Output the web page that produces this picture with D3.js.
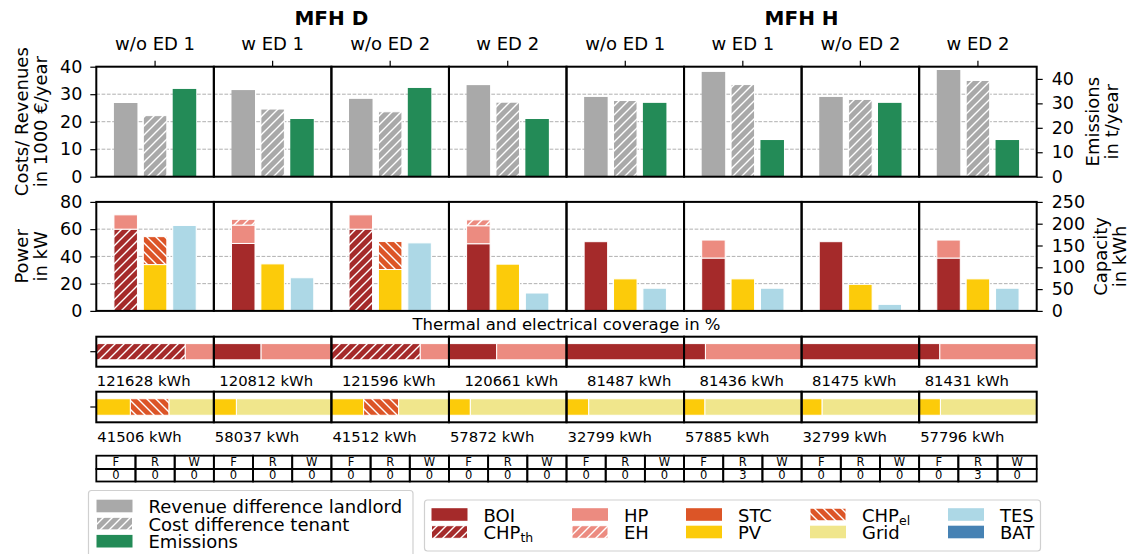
<!DOCTYPE html>
<html>
<head>
<meta charset="utf-8">
<script src="https://cdn.jsdelivr.net/npm/d3@7"></script>
<style>
  html, body { margin: 0; padding: 0; background: #fff; }
  svg { display: block; font-family: "DejaVu Sans", sans-serif; }
</style>
</head>
<body>
<svg id="chart" width="1133" height="554"></svg>
<script>
// ---------------- data ----------------
const scenarios = ["w/o ED 1", "w ED 1", "w/o ED 2", "w ED 2", "w/o ED 1", "w ED 1", "w/o ED 2", "w ED 2"];
const buildings = ["MFH D", "MFH H"];

// costs / revenues in 1000 EUR/year, emissions in t/year
const revenueLandlord = [26.8, 31.5, 28.3, 33.3, 29.0, 38.1, 29.0, 38.8];
const costTenant      = [22.2, 24.6, 23.6, 27.1, 27.7, 33.5, 28.1, 35.0];
const emissions       = [35.9, 23.6, 36.3, 23.6, 30.2, 15.0, 30.2, 15.0];

// installed power in kW
const powerBOI   = [0, 49.5, 0, 49.3, 50.8, 38.8, 50.8, 38.8];
const powerCHPth = [60, 0, 60, 0, 0, 0, 0, 0];
const powerHP    = [10.5, 13.5, 10.5, 13.2, 0, 13.2, 0, 13.2];
const powerEH    = [0, 4.2, 0, 4.3, 0, 0, 0, 0];
const powerPV    = [34, 34.5, 30.4, 34.3, 23.5, 23.5, 19.5, 23.5];
const powerSTC   = [0, 0, 0, 0, 0, 0, 0, 0];
const powerCHPel = [20.5, 0, 20.5, 0, 0, 0, 0, 0];
// storage capacity in kWh
const capTES = [196, 76, 156, 41, 52, 52, 15, 52];
const capBAT = [0, 0, 0, 0, 0, 0, 0, 0];

// coverage shares in %
const thermBOI   = [0, 40.2, 0, 40.6, 100, 18.2, 100, 17.6];
const thermCHPth = [75.7, 0, 75.6, 0, 0, 0, 0, 0];
const thermHP    = [24.3, 59.8, 24.4, 59.4, 0, 81.8, 0, 82.4];
const thermEH    = [0, 0, 0, 0, 0, 0, 0, 0];
const elecPV     = [29.0, 19.2, 27.4, 18.2, 18.9, 17.8, 17.5, 18.1];
const elecCHPel  = [32.9, 0, 29.8, 0, 0, 0, 0, 0];
const elecGrid   = [38.1, 80.8, 42.8, 81.8, 81.1, 82.2, 82.5, 81.9];

// annual demands in kWh
const thermalDemand    = [121628, 120812, 121596, 120661, 81487, 81436, 81475, 81431];
const electricalDemand = [41506, 58037, 41512, 57872, 32799, 57885, 32799, 57796];

// flexibility table
const flexCols = ["F", "R", "W"];
const flexF = [0, 0, 0, 0, 0, 0, 0, 0];
const flexR = [0, 0, 0, 0, 0, 3, 0, 3];
const flexW = [0, 0, 0, 0, 0, 0, 0, 0];

const topTicks = [0, 10, 20, 30, 40];
const emisTicks = [0, 10, 20, 30, 40];
const powerTicks = [0, 20, 40, 60, 80];
const capTicks = [0, 50, 100, 150, 200, 250];

// ---------------- style ----------------
const C = {
  grey: "#a9a9a9", green: "#238b57", boi: "#a52a2a", hp: "#ec8b80",
  stc: "#dc5527", pv: "#fccb0a", grid: "#f0e68c", tes: "#add8e6", bat: "#4682b4"
};
const FONT_TICK = 17.5, FONT_LAB = 18;

// ---------------- layout ----------------
const svg = d3.select("#chart");
const X0 = 96.3, X1 = 1036.7;
const panel = d3.scaleBand().domain(d3.range(scenarios.length)).range([X0, X1]);
const pw = panel.bandwidth();
const inner = d3.scaleLinear().domain([-1, 3]).range([0, pw]);
const barW = inner(0.8) - inner(0);
const barX = (i, pos) => panel(i) + inner(pos - 0.4);

const yTop = d3.scaleLinear().domain([0, 40]).range([176.7, 66.7]);
const yEmis = d3.scaleLinear().domain([0, 45]).range([176.7, 66.7]);
const yPow = d3.scaleLinear().domain([0, 80]).range([310.9, 201.9]);
const yCap = d3.scaleLinear().domain([0, 250]).range([310.9, 201.9]);
const cov = d3.scaleLinear().domain([0, 100]).range([0, pw]);
const rowTherm = d3.scaleLinear().domain([-0.5, 0.5]).range([366.7, 336.7]);
const rowElec = d3.scaleLinear().domain([-0.5, 0.5]).range([422.3, 391.7]);

// ---------------- hatch patterns ----------------
const defs = svg.append("defs");
function hatch(id, color, dir, s) {
  const p = defs.append("pattern").attr("id", id)
    .attr("patternUnits", "userSpaceOnUse").attr("width", s).attr("height", s);
  p.append("rect").attr("width", s).attr("height", s).attr("fill", color);
  const d = dir === "/"
    ? `M0,${s} L${s},0 M${-s / 2},${s / 2} L${s / 2},${-s / 2} M${s / 2},${1.5 * s} L${1.5 * s},${s / 2}`
    : `M0,0 L${s},${s} M${-s / 2},${s / 2} L${s / 2},${1.5 * s} M${s / 2},${-s / 2} L${1.5 * s},${s / 2}`;
  p.append("path").attr("d", d).attr("stroke", "#fff").attr("stroke-width", 1.4).attr("fill", "none");
}
hatch("hGrey", C.grey, "/", 9);
hatch("hCHPth", C.boi, "/", 9);
hatch("hEH", C.hp, "/", 9);
hatch("hCHPel", C.stc, "\\", 9);

// ---------------- grid lines ----------------
const gGrid = svg.append("g");
scenarios.forEach((_, i) => {
  [10, 20, 30].forEach(v => gGrid.append("line")
    .attr("x1", panel(i)).attr("x2", panel(i) + pw).attr("y1", yTop(v)).attr("y2", yTop(v)));
  [20, 40, 60].forEach(v => gGrid.append("line")
    .attr("x1", panel(i)).attr("x2", panel(i) + pw).attr("y1", yPow(v)).attr("y2", yPow(v)));
});
gGrid.selectAll("line").attr("stroke", "#b0b0b0").attr("stroke-width", 1).attr("stroke-dasharray", "3.7,1.6");

// ---------------- top panel: costs/revenues and emissions ----------------
const topSeries = [
  { values: revenueLandlord, fill: C.grey, y: yTop, pos: 0, edge: false },
  { values: costTenant, fill: "url(#hGrey)", y: yTop, pos: 1, edge: true },
  { values: emissions, fill: C.green, y: yEmis, pos: 2, edge: false }
];
const gTop = svg.append("g");
topSeries.forEach(s => {
  gTop.selectAll(null).data(s.values).join("rect")
    .attr("x", (d, i) => barX(i, s.pos)).attr("width", barW)
    .attr("y", d => s.y(d)).attr("height", d => s.y(0) - s.y(d))
    .attr("fill", s.fill)
    .attr("stroke", s.edge ? "#fff" : "none").attr("stroke-width", 1);
});

// ---------------- middle panel: stacked power / capacity ----------------
const midGroups = [
  { pos: 0, y: yPow, parts: [[powerBOI, C.boi], [powerCHPth, "url(#hCHPth)"], [powerHP, C.hp], [powerEH, "url(#hEH)"]] },
  { pos: 1, y: yPow, parts: [[powerPV, C.pv], [powerSTC, C.stc], [powerCHPel, "url(#hCHPel)"]] },
  { pos: 2, y: yCap, parts: [[capTES, C.tes], [capBAT, C.bat]] }
];
const gMid = svg.append("g");
midGroups.forEach(g => {
  const rows = scenarios.map((_, i) => {
    const o = { i };
    g.parts.forEach((p, k) => o[k] = p[0][i]);
    return o;
  });
  const stack = d3.stack().keys(g.parts.map((_, k) => k))(rows);
  stack.forEach((layer, k) => {
    gMid.selectAll(null).data(layer.filter(d => d[1] - d[0] > 0)).join("rect")
      .attr("x", d => barX(d.data.i, g.pos)).attr("width", barW)
      .attr("y", d => g.y(d[1])).attr("height", d => g.y(d[0]) - g.y(d[1]))
      .attr("fill", g.parts[k][1]).attr("stroke", "#fff").attr("stroke-width", 1);
  });
});

// ---------------- coverage rows ----------------
function coverageRow(parts, row) {
  const rows = scenarios.map((_, i) => {
    const o = { i };
    parts.forEach((p, k) => o[k] = p[0][i]);
    return o;
  });
  const stack = d3.stack().keys(parts.map((_, k) => k))(rows);
  const g = svg.append("g");
  stack.forEach((layer, k) => {
    g.selectAll(null).data(layer.filter(d => d[1] - d[0] > 0.05)).join("rect")
      .attr("x", d => panel(d.data.i) + cov(d[0])).attr("width", d => cov(d[1]) - cov(d[0]))
      .attr("y", row(0.27)).attr("height", row(-0.27) - row(0.27))
      .attr("fill", parts[k][1]).attr("stroke", "#fff").attr("stroke-width", 1);
  });
}
coverageRow([[thermBOI, C.boi], [thermCHPth, "url(#hCHPth)"], [thermHP, C.hp], [thermEH, "url(#hEH)"]], rowTherm);
coverageRow([[elecPV, C.pv], [elecCHPel, "url(#hCHPel)"], [elecGrid, C.grid]], rowElec);

// ---------------- panel frames ----------------
const gFrame = svg.append("g").attr("fill", "none").attr("stroke", "#000").attr("stroke-width", 2);
const bands = [[yTop(40), yTop(0)], [yPow(80), yPow(0)], [rowTherm(0.5), rowTherm(-0.5)], [rowElec(0.5), rowElec(-0.5)]];
bands.forEach(([t, b]) => scenarios.forEach((_, i) =>
  gFrame.append("rect").attr("x", panel(i)).attr("y", t).attr("width", pw).attr("height", b - t)));

// ---------------- axes ----------------
function styleAxis(g) {
  g.select(".domain").remove();
  g.selectAll(".tick line").attr("stroke", "#000").attr("stroke-width", 1.2);
  g.selectAll(".tick text").attr("fill", "#000").attr("font-size", FONT_TICK)
    .attr("font-family", "DejaVu Sans, sans-serif");
}
svg.append("g").attr("transform", `translate(${X0},0)`)
  .call(d3.axisLeft(yTop).tickValues(topTicks).tickSize(6).tickPadding(8)).call(styleAxis);
svg.append("g").attr("transform", `translate(${X1},0)`)
  .call(d3.axisRight(yEmis).tickValues(emisTicks).tickSize(6).tickPadding(9)).call(styleAxis);
svg.append("g").attr("transform", `translate(${X0},0)`)
  .call(d3.axisLeft(yPow).tickValues(powerTicks).tickSize(6).tickPadding(8)).call(styleAxis);
svg.append("g").attr("transform", `translate(${X1},0)`)
  .call(d3.axisRight(yCap).tickValues(capTicks).tickSize(6).tickPadding(9)).call(styleAxis);
svg.append("g").attr("transform", `translate(0,${yTop(40)})`)
  .call(d3.axisTop(panel).tickFormat(i => scenarios[i]).tickSize(6).tickPadding(11)).call(styleAxis)
  .selectAll(".tick text").attr("font-size", FONT_LAB);

// small ticks on the coverage rows
[rowTherm, rowElec].forEach(r => svg.append("line")
  .attr("x1", X0 - 6).attr("x2", X0).attr("y1", r(0)).attr("y2", r(0))
  .attr("stroke", "#000").attr("stroke-width", 1.2));

// ---------------- titles and axis labels ----------------
const half = scenarios.length / 2;
buildings.forEach((b, k) => {
  const x = (panel(k * half) + panel(k * half + half - 1) + pw) / 2;
  svg.append("text").attr("x", x).attr("y", 24.7).attr("text-anchor", "middle")
    .attr("font-weight", "bold").attr("font-size", 20).text(b);
});

function vLabel(lines, xs, yc, rot) {
  lines.forEach((t, k) => svg.append("text")
    .attr("transform", `translate(${xs[k]},${yc}) rotate(${rot})`)
    .attr("text-anchor", "middle").attr("dominant-baseline", "central")
    .attr("font-size", FONT_LAB).text(t));
}
vLabel(["Costs/ Revenues", "in 1000 €/year"], [21.5, 40.5], (yTop(0) + yTop(40)) / 2, -90);
vLabel(["Power", "in kW"], [21.5, 40.5], (yPow(0) + yPow(80)) / 2, -90);
vLabel(["Emissions", "in t/year"], [1092, 1111], (yEmis(0) + yEmis(45)) / 2, -90);
vLabel(["Capacity", "in kWh"], [1100, 1119], (yCap(0) + yCap(250)) / 2, -90);

svg.append("text").attr("x", (X0 + X1) / 2).attr("y", 330).attr("text-anchor", "middle")
  .attr("font-size", 16.5).text("Thermal and electrical coverage in %");

// demand labels
const gDem = svg.append("g").attr("font-size", 14.8);
thermalDemand.forEach((v, i) => gDem.append("text")
  .attr("x", panel(i) + 0.5 + 5 * Math.min(i, scenarios.length - i)).attr("y", 386)
  .text(`${v} kWh`));
electricalDemand.forEach((v, i) => gDem.append("text")
  .attr("x", panel(i) + 1).attr("y", 441.5).text(`${v} kWh`));

// ---------------- flexibility table ----------------
const tTop = 455.7, tMid = 469, tBot = 481.5;
const gTab = svg.append("g");
const flexVals = [flexF, flexR, flexW];
const cellX = d3.scaleLinear().domain([0, 3]).range([0, pw]);
scenarios.forEach((_, i) => {
  flexCols.forEach((c, j) => {
    const x = panel(i) + cellX(j);
    gTab.append("rect").attr("x", x).attr("y", tTop).attr("width", cellX(1)).attr("height", tMid - tTop);
    gTab.append("rect").attr("x", x).attr("y", tMid).attr("width", cellX(1)).attr("height", tBot - tMid);
    gTab.append("text").attr("x", x + cellX(0.5)).attr("y", tTop + 10).text(c);
    gTab.append("text").attr("x", x + cellX(0.5)).attr("y", tMid + 10).text(flexVals[j][i]);
  });
});
gTab.selectAll("rect").attr("fill", "none").attr("stroke", "#000").attr("stroke-width", 1.8);
gTab.selectAll("text").attr("text-anchor", "middle").attr("font-size", 11.5);

// ---------------- legends ----------------
function legendBox(x, y, w, h) {
  svg.append("rect").attr("x", x).attr("y", y).attr("width", w).attr("height", h)
    .attr("rx", 3).attr("fill", "#fff").attr("stroke", "#d0d0d0").attr("stroke-width", 1.2);
}
function legendItem(px, cy, fill, edge, label, sub) {
  svg.append("rect").attr("x", px).attr("y", cy - 6.3).attr("width", 36).attr("height", 12.6)
    .attr("fill", fill).attr("stroke", edge ? "#fff" : "none").attr("stroke-width", 1);
  const t = svg.append("text").attr("x", px + 52).attr("y", cy).attr("dominant-baseline", "central")
    .attr("font-size", FONT_LAB);
  t.append("tspan").text(label);
  if (sub) t.append("tspan").attr("font-size", 12.5).attr("dy", 5).text(sub);
}
legendBox(88.5, 490.5, 324.5, 75);
[["Revenue difference landlord", C.grey, false],
 ["Cost difference tenant", "url(#hGrey)", true],
 ["Emissions", C.green, false]].forEach((d, k) => legendItem(96.5, 506 + k * 17.6, d[1], d[2], d[0]));

legendBox(424.5, 500, 616, 51);
const legCols = [
  [["BOI", C.boi, false], ["CHP", "url(#hCHPth)", true, "th"]],
  [["HP", C.hp, false], ["EH", "url(#hEH)", true]],
  [["STC", C.stc, false], ["PV", C.pv, false]],
  [["CHP", "url(#hCHPel)", true, "el"], ["Grid", C.grid, false]],
  [["TES", C.tes, false], ["BAT", C.bat, false]]
];
const legColX = [431.5, 572, 686, 810, 948];
legCols.forEach((col, c) => col.forEach((d, r) =>
  legendItem(legColX[c], 514.5 + r * 17.5, d[1], d[2], d[0], d[3])));
</script>
</body>
</html>
